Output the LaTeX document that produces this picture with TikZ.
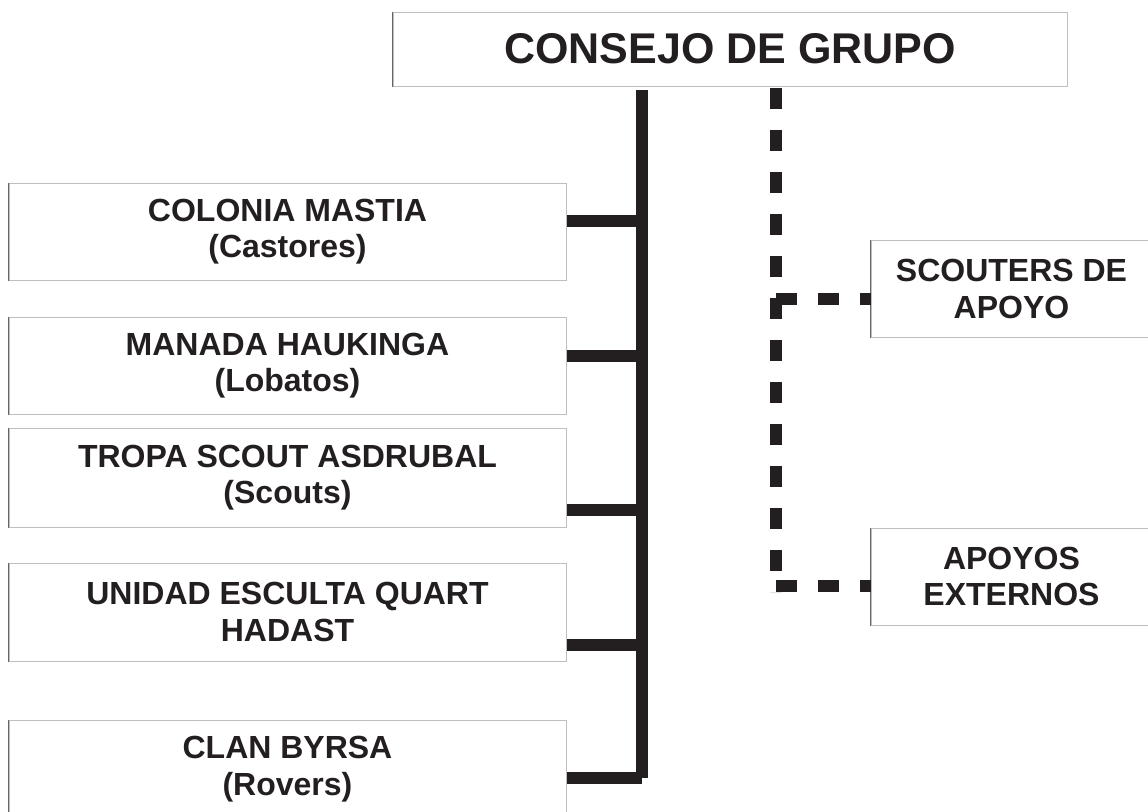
\documentclass[tikz,border=0pt]{standalone}
\usepackage{fontspec}
\setmainfont{Liberation Sans}
\definecolor{ink}{HTML}{231F20}
\definecolor{edge}{HTML}{BEBEBE}
\begin{document}
\begin{tikzpicture}[x=0.5pt,y=-0.5pt,
	caja/.style={draw=edge,line width=0.5pt,rectangle,inner sep=0pt,align=center,text=ink,
		font=\fontsize{16}{18.25}\selectfont\bfseries},
	unidad/.style={caja,minimum width=278.5pt,minimum height=49pt},
	apoyo/.style={caja,minimum width=140.5pt,minimum height=48.5pt},
	lado/.style={draw=black!60,line width=0.5pt},
	tronco/.style={draw=ink,line width=6.2pt},
	soporte/.style={draw=ink,line width=6.2pt,dash pattern=on 10.5pt off 10.5pt}]
	\useasboundingbox (0,0) rectangle (1148,811);
	\node[caja,minimum width=337pt,minimum height=37pt,font=\fontsize{21.5}{25}\selectfont\bfseries] (consejo) at (730,49) {CONSEJO DE GRUPO};
	\node[unidad,minimum height=48.5pt] (colonia) at (287.5,231.5) {COLONIA MASTIA\\(Castores)};
	\node[unidad,minimum height=48.5pt] (manada) at (287.5,365.5) {MANADA HAUKINGA\\(Lobatos)};
	\node[unidad,minimum height=49.5pt] (tropa) at (287.5,477.5) {TROPA SCOUT ASDRUBAL\\(Scouts)};
	\node[unidad] (esculta) at (287.5,612) {UNIDAD ESCULTA QUART\\HADAST};
	\node[unidad] (clan) at (287.5,769) {CLAN BYRSA\\(Rovers)};
	\node[apoyo] (scouters) at (1011.5,289) {SCOUTERS DE\\APOYO};
	\node[apoyo] (externos) at (1011.5,576.5) {APOYOS\\EXTERNOS};
	\draw[lado] (consejo.north west) -- (consejo.south west);
	\draw[lado] (colonia.north west) -- (colonia.south west);
	\draw[lado] (manada.north west) -- (manada.south west);
	\draw[lado] (tropa.north west) -- (tropa.south west);
	\draw[lado] (esculta.north west) -- (esculta.south west);
	\draw[lado] (clan.north west) -- (clan.south west);
	\draw[lado] (scouters.north west) -- (scouters.south west);
	\draw[lado] (externos.north west) -- (externos.south west);
	\coordinate (j1) at (642,221);
	\coordinate (j2) at (642,356);
	\coordinate (j3) at (642,510);
	\coordinate (j4) at (642,645);
	\coordinate (j5) at (642,778);
	\draw[tronco] ([yshift=-1.5pt]j5 |- consejo.south) -- (j5);
	\draw[tronco] (colonia.east |- j1) -- (j1);
	\draw[tronco] (manada.east |- j2) -- (j2);
	\draw[tronco] (tropa.east |- j3) -- (j3);
	\draw[tronco] (esculta.east |- j4) -- (j4);
	\draw[tronco] (clan.east |- j5) -- (j5);
	\coordinate (d0) at (776,88);
	\coordinate (d1) at (776,299);
	\coordinate (d2) at (776,586);
	\draw[soporte] (d0) -- ([yshift=-3pt]d2);
	\draw[soporte] (d1) -- (d1 -| scouters.west);
	\draw[soporte] (d2) -- (d2 -| externos.west);
\end{tikzpicture}
\end{document}
